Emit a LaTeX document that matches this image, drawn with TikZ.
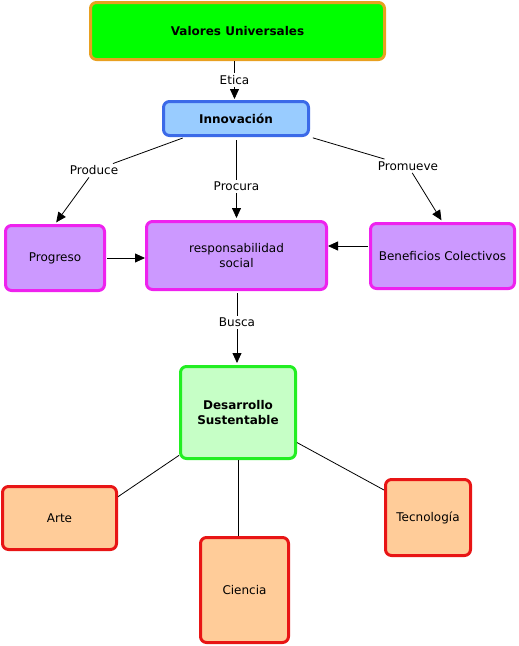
\documentclass[tikz,border=0pt]{standalone}
\usepackage{fontspec}
\setmainfont{DejaVu Sans}
\usetikzlibrary{arrows.meta}
\definecolor{vfill}{HTML}{00FF00}
\definecolor{vdraw}{HTML}{E8A020}
\definecolor{ifill}{HTML}{99CCFF}
\definecolor{idraw}{HTML}{3B6AE8}
\definecolor{pfill}{HTML}{CC99FF}
\definecolor{pdraw}{HTML}{EE22EE}
\definecolor{dfill}{HTML}{C6FFC6}
\definecolor{ddraw}{HTML}{22EE22}
\definecolor{ofill}{HTML}{FFCC99}
\definecolor{odraw}{HTML}{E81515}
\tikzset{
  box/.style={rectangle, rounded corners=6pt, line width=3pt, align=center,
    font=\fontsize{12}{14.5}\selectfont, inner sep=0pt},
  bold/.style={font=\fontsize{12}{14.5}\selectfont\bfseries},
  lbl/.style={font=\fontsize{12}{14}\selectfont, inner sep=2.5pt, text height=8.5pt, text depth=0pt},
  conn/.style={line width=0.8pt, black},
  arr/.style={conn, -{Triangle[length=10pt,width=9pt]}},
}
\begin{document}
\begin{tikzpicture}[x=1pt,y=-1pt]
\useasboundingbox (0,0) rectangle (519,646);
% nodes
\node[box, bold, fill=vfill, draw=vdraw, minimum width=294, minimum height=57] (val) at (237.5,31) {Valores Universales};
\node[box, bold, fill=ifill, draw=idraw, minimum width=145, minimum height=34] (inn) at (236,118.5) {Innovación};
\node[box, fill=pfill, draw=pdraw, minimum width=99, minimum height=65] (prog) at (55,258) {Progreso};
\node[box, fill=pfill, draw=pdraw, minimum width=180, minimum height=68] (resp) at (236.5,255.5) {responsabilidad\\social};
\node[box, fill=pfill, draw=pdraw, minimum width=144, minimum height=65] (ben) at (442.5,256) {Beneficios Colectivos};
\node[box, bold, fill=dfill, draw=ddraw, minimum width=115, minimum height=92] (des) at (238,412.5) {Desarrollo\\Sustentable};
\node[box, fill=ofill, draw=odraw, minimum width=114, minimum height=63] (arte) at (59.5,518) {Arte};
\node[box, fill=ofill, draw=odraw, minimum width=88, minimum height=105] (cie) at (244.5,590) {Ciencia};
\node[box, fill=ofill, draw=odraw, minimum width=85, minimum height=76] (tec) at (428,517.5) {Tecnología};
% labels
\node[lbl] (etica) at (234.5,80) {Etica};
\node[lbl] (produce) at (94,170.5) {Produce};
\node[lbl] (procura) at (236.5,186.5) {Procura};
\node[lbl] (promueve) at (408,166) {Promueve};
\node[lbl] (busca) at (237,322.5) {Busca};
% connectors
\draw[conn] (etica |- val.south) -- (etica);
\draw[arr, shorten >=1pt] (etica) -- (etica |- inn.north);
\draw[conn, shorten <=3pt] (inn) -- (produce);
\draw[arr, shorten >=2pt] (produce) -- (prog.north);
\draw[conn, shorten <=3pt] (procura |- inn.south) -- (procura);
\draw[arr, shorten >=2pt] (procura) -- (procura |- resp.north);
\draw[conn, shorten <=3pt] (inn.south east) -- (promueve);
\draw[arr, shorten >=2pt] (promueve) -- (ben.north);
\draw[arr, shorten <=1pt] (prog.east) -- (prog.east -| resp.west);
\draw[arr, shorten <=1pt] ([yshift=10pt]ben.west) -- ([yshift=10pt]ben.west -| resp.east);
\draw[conn, shorten <=2pt] (busca |- resp.south) -- (busca);
\draw[arr, shorten >=2pt] (busca) -- (busca |- des.north);
\draw[conn] (des.216) -- (arte.20);
\draw[conn] (des.south) -- (des.south |- cie.north);
\draw[conn] (des.-27) -- (tec.148);
\end{tikzpicture}
\end{document}
